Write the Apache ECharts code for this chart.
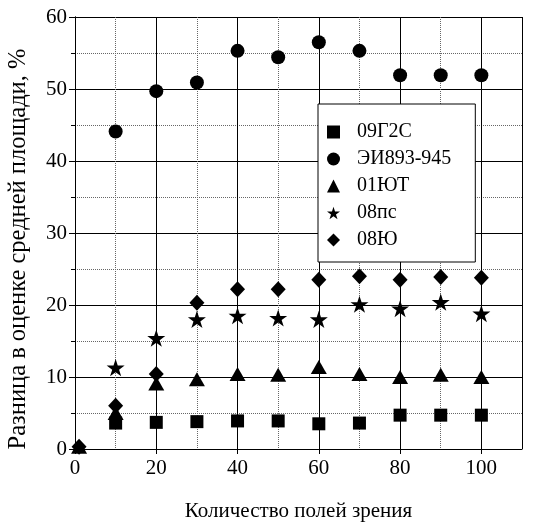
<!DOCTYPE html>
<html><head><meta charset="utf-8">
<script src="https://cdn.jsdelivr.net/npm/echarts@6/dist/echarts.min.js"></script>
<style>html,body{margin:0;padding:0;background:#fff}#c{width:535px;height:524px}</style>
</head><body><div id="c"></div>
<script>
var xValues = [1, 10, 20, 30, 40, 50, 60, 70, 80, 90, 100];
var s09G2S = [null, 3.6, 3.7, 3.8, 3.9, 3.9, 3.5, 3.6, 4.7, 4.7, 4.7];
var sEI893 = [null, 44.1, 49.7, 50.9, 55.3, 54.4, 56.5, 55.3, 51.9, 51.9, 51.9];
var s01YuT = [0.3, 5.0, 9.1, 9.7, 10.4, 10.3, 11.4, 10.4, 10.0, 10.3, 10.0];
var s08ps = [null, 11.3, 15.4, 18.0, 18.5, 18.2, 18.0, 20.1, 19.5, 20.4, 18.8];
var s08Yu = [0.3, 6.0, 10.4, 20.3, 22.2, 22.2, 23.5, 24.0, 23.5, 23.9, 23.8];
var seriesNames = ['09Г2С', 'ЭИ893-945', '01ЮТ', '08пс', '08Ю'];

var starPath = 'path://M50,0 L61.2,34.5 L97.6,34.5 L68.2,55.9 L79.4,90.5 L50,69.1 L20.6,90.5 L31.8,55.9 L2.4,34.5 L38.8,34.5 Z';
var values = [s09G2S, sEI893, s01YuT, s08ps, s08Yu];
var symbols = ['rect', 'circle', 'triangle', starPath, 'diamond'];
var sizes = [13, 14, [16, 14], 18, [15, 16]];

function pairs(arr) {
  var out = [];
  for (var i = 0; i < xValues.length; i++) if (arr[i] !== null) out.push([xValues[i], arr[i]]);
  return out;
}
var font = "'Liberation Serif', serif";
var series = seriesNames.map(function (n, i) {
  return {
    name: n, type: 'scatter', data: pairs(values[i]),
    symbol: symbols[i], symbolSize: sizes[i], symbolKeepAspect: true,
    itemStyle: { color: '#000', opacity: 1 }, xAxisIndex: 0, yAxisIndex: 0, z: 5
  };
});

var chart = echarts.init(document.getElementById('c'), null, { renderer: 'canvas' });
chart.setOption({
  backgroundColor: '#fff',
  animation: false,
  grid: { left: 75, right: 13, top: 17, bottom: 75, containLabel: false, outerBoundsMode: 'none' },
  legend: {
    orient: 'vertical', left: 318, top: 104,
    data: seriesNames,
    backgroundColor: '#fff', borderColor: '#000', borderWidth: 1,
    padding: [18, 24, 12, 9], itemGap: 7, itemWidth: 13, itemHeight: 13,
    textStyle: { fontFamily: font, fontSize: 20, color: '#000', lineHeight: 20, padding: [0, 0, 0, 12] },
    selectedMode: false
  },
  xAxis: [{
    type: 'value', min: 0, max: 110, interval: 20,
    axisLine: { show: true, lineStyle: { color: '#000', width: 1 } },
    axisTick: { show: true, length: 5, inside: false, lineStyle: { color: '#000' } },
    axisLabel: { showMaxLabel: false, fontFamily: font, fontSize: 21, color: '#000', margin: 9 },
    splitLine: { show: true, lineStyle: { color: '#000', width: 1, type: 'solid' } },
    name: 'Количество полей зрения', nameLocation: 'middle', nameGap: 52,
    nameTextStyle: { fontFamily: font, fontSize: 21, color: '#000' }, z: 3
  }, {
    type: 'value', min: 0, max: 110, interval: 10, position: 'bottom',
    axisLine: { show: false }, axisTick: { show: false }, axisLabel: { show: false },
    splitLine: { show: true, lineStyle: { color: '#666', width: 1, type: [1, 1] } }, z: 1
  }],
  yAxis: [{
    type: 'value', min: 0, max: 60, interval: 10,
    axisLine: { show: true, lineStyle: { color: '#000', width: 1 } },
    axisTick: { show: true, length: 6, lineStyle: { color: '#000' } },
    minorTick: { show: true, splitNumber: 2, length: 4, lineStyle: { color: '#000' } },
    minorSplitLine: { show: true, lineStyle: { color: '#666', width: 1, type: [1, 1] } },
    axisLabel: { fontFamily: font, fontSize: 21, color: '#000', margin: 8 },
    splitLine: { show: true, lineStyle: { color: '#000', width: 1 } },
    name: 'Разница в оценке средней площади, %', nameLocation: 'middle', nameGap: 44,
    nameTextStyle: { fontFamily: font, fontSize: 24.5, color: '#000', padding: [0, 32, 0, 0] }
  }, {
    type: 'value', min: 0, max: 60, interval: 10, position: 'right',
    axisLine: { show: true, lineStyle: { color: '#000', width: 1 } },
    axisTick: { show: false }, axisLabel: { show: false }, splitLine: { show: false }
  }],
  series: series
});
</script></body></html>
